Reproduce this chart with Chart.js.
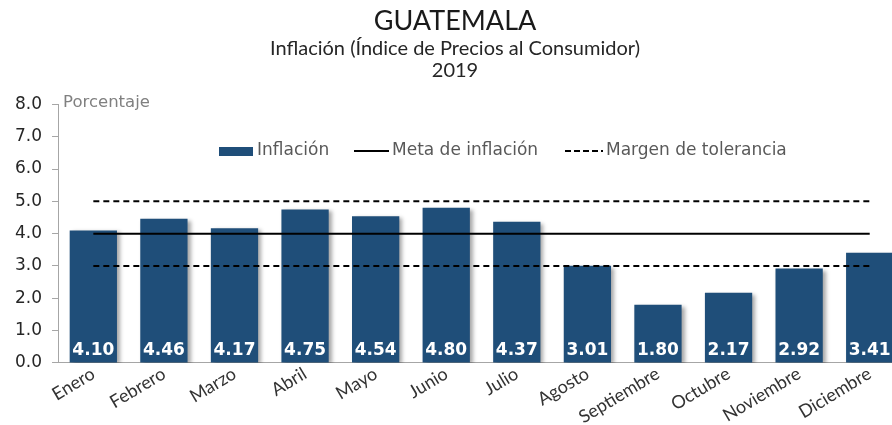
<!DOCTYPE html>
<html>
<head>
<meta charset="utf-8">
<script src="https://cdn.jsdelivr.net/npm/chart.js@4"></script>
<style>
  body { margin: 0; overflow: hidden; background: #fff; }
  #wrap { width: 924px; height: 428px; }
</style>
</head>
<body>
<div id="wrap"><canvas id="chart"></canvas></div>
<script>
// data
const meses = ['Enero', 'Febrero', 'Marzo', 'Abril', 'Mayo', 'Junio', 'Julio', 'Agosto', 'Septiembre', 'Octubre', 'Noviembre', 'Diciembre'];
const inflacion = [4.10, 4.46, 4.17, 4.75, 4.54, 4.80, 4.37, 3.01, 1.80, 2.17, 2.92, 3.41];
const metaInflacion = [4.0, 4.0, 4.0, 4.0, 4.0, 4.0, 4.0, 4.0, 4.0, 4.0, 4.0, 4.0];
const margenSuperior = [5.0, 5.0, 5.0, 5.0, 5.0, 5.0, 5.0, 5.0, 5.0, 5.0, 5.0, 5.0];
const margenInferior = [3.0, 3.0, 3.0, 3.0, 3.0, 3.0, 3.0, 3.0, 3.0, 3.0, 3.0, 3.0];
const yTicks = [0, 1, 2, 3, 4, 5, 6, 7, 8];

const azul = '#1f4e79';

// soft shadow behind the bars
const barShadow = {
    id: 'barShadow',
    beforeDatasetDraw(chart, args) {
        if (args.index !== 0) return;
        const ctx = chart.ctx;
        ctx.save();
        ctx.shadowColor = 'rgba(0,0,0,0.35)';
        ctx.shadowOffsetX = 3;
        ctx.shadowOffsetY = 2;
        ctx.shadowBlur = 4;
    },
    afterDatasetDraw(chart, args) {
        if (args.index !== 0) return;
        chart.ctx.restore();
    }
};

// values written at the foot of each bar
const barLabels = {
    id: 'barLabels',
    afterDatasetsDraw(chart) {
        const ctx = chart.ctx;
        const meta = chart.getDatasetMeta(0);
        ctx.save();
        ctx.font = 'bold 17px "DejaVu Sans"';
        ctx.fillStyle = '#ffffff';
        ctx.textAlign = 'center';
        ctx.textBaseline = 'middle';
        meta.data.forEach((bar, i) => {
            ctx.fillText(inflacion[i].toFixed(2), bar.x, chart.chartArea.bottom - 12);
        });
        ctx.restore();
    }
};

// floating legend + axis caption
const extras = {
    id: 'extras',
    afterDraw(chart) {
        const ctx = chart.ctx;
        const ca = chart.chartArea;
        ctx.save();
        ctx.font = '16.5px "DejaVu Sans"';
        ctx.fillStyle = '#808080';
        ctx.textBaseline = 'middle';
        ctx.fillText('Porcentaje', ca.left + 5, ca.top - 2);

        const y = 151;
        ctx.font = '17px "DejaVu Sans"';
        ctx.fillStyle = azul;
        ctx.fillRect(219, y - 4, 34, 9);
        ctx.fillStyle = '#595959';
        ctx.fillText('Inflación', 257, y);

        ctx.strokeStyle = '#000';
        ctx.lineWidth = 2;
        ctx.beginPath();
        ctx.moveTo(354, y); ctx.lineTo(389, y);
        ctx.stroke();
        ctx.fillText('Meta de inflación', 392, y);

        ctx.setLineDash([6, 3]);
        ctx.beginPath();
        ctx.moveTo(565, y); ctx.lineTo(603, y);
        ctx.stroke();
        ctx.setLineDash([]);
        ctx.fillText('Margen de tolerancia', 606, y);
        ctx.restore();
    }
};

new Chart(document.getElementById('chart'), {
    data: {
        labels: meses,
        datasets: [
            {
                type: 'bar',
                label: 'Inflación',
                data: inflacion,
                backgroundColor: azul,
                barPercentage: 0.67,
                categoryPercentage: 1.0,
                order: 2
            },
            {
                type: 'line',
                label: 'Meta de inflación',
                data: metaInflacion,
                borderColor: '#000',
                borderWidth: 2,
                pointRadius: 0,
                order: 1
            },
            {
                type: 'line',
                label: 'Margen de tolerancia',
                data: margenSuperior,
                borderColor: '#000',
                borderWidth: 2,
                borderDash: [6, 4],
                pointRadius: 0,
                order: 1
            },
            {
                type: 'line',
                label: 'Margen inferior',
                data: margenInferior,
                borderColor: '#000',
                borderWidth: 2,
                borderDash: [6, 4],
                pointRadius: 0,
                order: 1
            }
        ]
    },
    options: {
        responsive: true,
        maintainAspectRatio: false,
        animation: false,
        layout: { padding: { top: 5, right: 19, left: 5, bottom: 0 } },
        plugins: {
            legend: { display: false },
            tooltip: { enabled: false },
            title: {
                display: true,
                text: 'GUATEMALA',
                color: '#1a1a1a',
                font: { family: 'Lato', size: 27, weight: 'normal' },
                padding: { top: 0, bottom: 0 }
            },
            subtitle: {
                display: true,
                text: ['Inflación (Índice de Precios al Consumidor)', '2019'],
                color: '#262626',
                font: { family: 'Lato', size: 20, lineHeight: 1.1 },
                padding: { top: 0, bottom: 23 }
            }
        },
        scales: {
            x: {
                grid: { display: false, drawTicks: false },
                border: { color: '#a6a6a6' },
                ticks: {
                    color: '#333333',
                    font: { family: 'Lato', size: 18 },
                    maxRotation: 31,
                    minRotation: 31,
                    padding: 0
                }
            },
            y: {
                min: 0,
                max: 8,
                afterBuildTicks(scale) {
                    scale.ticks = yTicks.map(v => ({ value: v }));
                },
                grid: { drawOnChartArea: false, color: '#a6a6a6', tickLength: 6 },
                border: { color: '#a6a6a6' },
                ticks: {
                    color: '#262626',
                    font: { family: 'DejaVu Sans', size: 17 },
                    padding: 10,
                    callback: v => Number(v).toFixed(1)
                }
            }
        }
    },
    plugins: [barShadow, barLabels, extras]
});
</script>
</body>
</html>
